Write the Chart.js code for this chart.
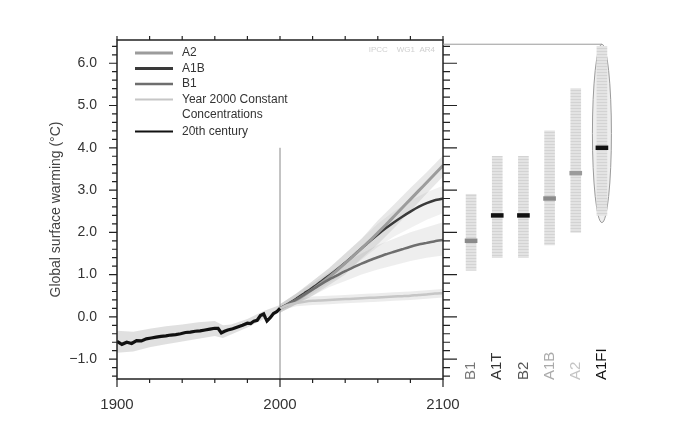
<!DOCTYPE html>
<html>
<head>
<meta charset="utf-8">
<script src="https://cdn.jsdelivr.net/npm/chart.js@4"></script>
<style>
  html, body { margin: 0; padding: 0; background: #fff; }
  #wrap { position: relative; width: 689px; height: 426px; }
  #main { position: absolute; left: 0; top: 0; }
  #side { position: absolute; left: 443px; top: 0; }
</style>
</head>
<body>
<div id="wrap">
  <canvas id="main" width="689" height="426"></canvas>
  <canvas id="side" width="246" height="426"></canvas>
</div>
<script>
// 20th century observations/simulation
const years20 = [1900,1903,1906,1909,1912,1915,1918,1921,1924,1927,1930,1933,1936,1939,1942,1945,1948,1951,1954,1957,1960,1962,1964,1966,1968,1971,1974,1977,1980,1982,1984,1986,1988,1990,1991,1992,1994,1996,1998,2000];
const temp20 = [-0.58,-0.65,-0.6,-0.63,-0.56,-0.57,-0.52,-0.5,-0.48,-0.46,-0.45,-0.43,-0.42,-0.4,-0.37,-0.36,-0.34,-0.33,-0.31,-0.29,-0.27,-0.27,-0.38,-0.34,-0.31,-0.28,-0.24,-0.2,-0.15,-0.16,-0.1,-0.08,0.03,0.07,-0.02,-0.1,-0.02,0.08,0.12,0.2];
const bandYears20 = [1900,1910,1920,1930,1940,1950,1960,1965,1970,1980,1990,2000];
const band20Hi = [-0.33,-0.35,-0.28,-0.22,-0.18,-0.13,-0.1,-0.2,-0.18,-0.05,0.14,0.28];
const band20Lo = [-0.85,-0.82,-0.72,-0.65,-0.58,-0.52,-0.45,-0.5,-0.42,-0.25,-0.05,0.12];

// 21st century scenarios
const futYears = [2000,2005,2010,2015,2020,2025,2030,2035,2040,2045,2050,2055,2060,2065,2070,2075,2080,2085,2090,2095,2100];
const a2 = [0.20,0.29,0.40,0.52,0.65,0.79,0.94,1.10,1.27,1.44,1.62,1.80,1.99,2.18,2.38,2.58,2.78,2.98,3.18,3.38,3.58];
const a1b = [0.20,0.31,0.43,0.56,0.69,0.83,0.97,1.12,1.28,1.45,1.62,1.79,1.95,2.10,2.24,2.37,2.49,2.60,2.69,2.76,2.80];
const b1 = [0.20,0.30,0.41,0.53,0.65,0.77,0.88,0.98,1.08,1.17,1.26,1.34,1.41,1.48,1.54,1.60,1.66,1.71,1.75,1.79,1.82];
const commit = [0.20,0.28,0.33,0.36,0.38,0.39,0.40,0.41,0.42,0.43,0.44,0.45,0.46,0.47,0.48,0.49,0.50,0.52,0.53,0.55,0.56];

const bandYears = [2000,2010,2020,2030,2040,2050,2060,2070,2080,2090,2100];
const a2Hi = [0.3,0.55,0.85,1.15,1.5,1.85,2.28,2.66,3.05,3.42,3.82];
const a2Lo = [0.1,0.3,0.5,0.75,1.0,1.38,1.72,2.1,2.5,2.92,3.32];
const a1bHi = [0.3,0.55,0.85,1.15,1.5,1.85,2.2,2.5,2.75,2.95,3.1];
const a1bLo = [0.1,0.3,0.55,0.8,1.05,1.35,1.65,1.9,2.1,2.3,2.45];
const b1Hi = [0.3,0.55,0.8,1.05,1.3,1.5,1.7,1.85,2.0,2.12,2.24];
const b1Lo = [0.1,0.3,0.5,0.7,0.85,1.0,1.12,1.22,1.32,1.4,1.45];
const commitHi = [0.25,0.42,0.48,0.5,0.52,0.54,0.56,0.58,0.6,0.63,0.66];
const commitLo = [0.15,0.25,0.28,0.3,0.32,0.34,0.36,0.38,0.4,0.43,0.46];

// likely ranges at 2090-2099 (right panel)
const scenLabels = ['B1', 'A1T', 'B2', 'A1B', 'A2', 'A1FI'];
const likelyLow = [1.1, 1.4, 1.4, 1.7, 2.0, 2.4];
const likelyHigh = [2.9, 3.8, 3.8, 4.4, 5.4, 6.4];
const bestEst = [1.8, 2.4, 2.4, 2.8, 3.4, 4.0];
const a1fiOval = [2.23, 6.45];

const legendLabels = ['A2', 'A1B', 'B1', 'Year 2000 Constant\nConcentrations', '20th century'];

const yMin = -1.47, yMax = 6.55;
const FONT = '"Liberation Sans", Arial, Helvetica, sans-serif';
Chart.defaults.font.family = FONT;

function pts(xs, ys) { return xs.map((x, i) => ({ x, y: ys[i] })); }
function band(xs, hi, lo, color) {
  return [
    { data: pts(xs, hi), borderWidth: 0, pointRadius: 0, fill: '+1', backgroundColor: color, order: 5 },
    { data: pts(xs, lo), borderWidth: 0, pointRadius: 0, fill: false, order: 5 }
  ];
}
function line(xs, ys, color, width, tension) {
  return { data: pts(xs, ys), borderColor: color, borderWidth: width, pointRadius: 0, fill: false, tension, order: 2 };
}

const styles = {
  a2: '#9c9c9c', a1b: '#3a3a3a', b1: '#6e6e6e', commit: '#c6c6c6', c20: '#111'
};

const datasets = [
  ...band(bandYears20, band20Hi, band20Lo, 'rgba(165,165,165,0.35)'),
  ...band(bandYears, a2Hi, a2Lo, 'rgba(150,150,150,0.22)'),
  ...band(bandYears, a1bHi, a1bLo, 'rgba(140,140,140,0.12)'),
  ...band(bandYears, b1Hi, b1Lo, 'rgba(150,150,150,0.16)'),
  ...band(bandYears, commitHi, commitLo, 'rgba(180,180,180,0.25)'),
  line(futYears, commit, styles.commit, 2.5, 0.2),
  line(futYears, b1, styles.b1, 2.5, 0.2),
  line(futYears, a2, styles.a2, 3, 0.2),
  line(futYears, a1b, styles.a1b, 2.5, 0.2),
  { ...line(years20, temp20, styles.c20, 3.2, 0), order: 1 }
];

// frame, ticks, 2000 marker, legend
const framePlugin = {
  id: 'frame',
  beforeDatasetsDraw(chart) {
    const { ctx, scales: { x, y } } = chart;
    const px = x.getPixelForValue(2000);
    ctx.save();
    ctx.strokeStyle = '#888';
    ctx.lineWidth = 1;
    ctx.beginPath();
    ctx.moveTo(px, y.getPixelForValue(4.0));
    ctx.lineTo(px, y.bottom);
    ctx.stroke();
    ctx.restore();
  },
  afterDatasetsDraw(chart) {
    const { ctx, chartArea: a, scales: { x, y } } = chart;
    ctx.save();
    ctx.strokeStyle = '#222';
    ctx.lineWidth = 1.5;
    ctx.strokeRect(a.left, a.top, a.right - a.left, a.bottom - a.top);
    ctx.lineWidth = 1.2;
    ctx.beginPath();
    for (let k = -7; k <= 32; k++) {
      const py = y.getPixelForValue(k / 5);
      const major = k % 5 === 0;
      ctx.moveTo(a.left, py); ctx.lineTo(a.left - (major ? 8 : 5), py);
      ctx.moveTo(a.right, py); ctx.lineTo(a.right + (major ? 14 : 7), py);
    }
    for (let yr = 1900; yr <= 2100; yr += 20) {
      const px = x.getPixelForValue(yr);
      const major = yr % 100 === 0;
      ctx.moveTo(px, a.bottom); ctx.lineTo(px, a.bottom + (major ? 8 : 4));
      ctx.moveTo(px, a.top); ctx.lineTo(px, a.top - 4);
    }
    ctx.stroke();

    // legend
    const keys = [styles.a2, styles.a1b, styles.b1, styles.commit, styles.c20];
    const widths = [3, 3, 2.5, 2, 2];
    let ry = 53;
    ctx.font = '12px ' + FONT;
    ctx.textBaseline = 'middle';
    ctx.fillStyle = '#333';
    legendLabels.forEach((lab, i) => {
      ctx.strokeStyle = keys[i];
      ctx.lineWidth = widths[i];
      ctx.beginPath();
      ctx.moveTo(135, ry); ctx.lineTo(173, ry);
      ctx.stroke();
      lab.split('\n').forEach((t, j) => ctx.fillText(t, 182, ry + j * 15.5));
      ry += 15.5 * lab.split('\n').length + (i === 3 ? 1 : 0);
    });

    ctx.fillStyle = '#cfcfcf';
    ctx.font = '8px ' + FONT;
    ctx.textAlign = 'right';
    ctx.fillText('IPCC    WG1  AR4', a.right - 8, a.top + 10);
    ctx.restore();
  }
};

new Chart(document.getElementById('main'), {
  type: 'line',
  data: { datasets },
  options: {
    responsive: false,
    animation: false,
    layout: { padding: { left: 0, top: 40, right: 246, bottom: 0 } },
    plugins: { legend: { display: false }, tooltip: { enabled: false } },
    scales: {
      x: {
        type: 'linear', min: 1900, max: 2100,
        grid: { display: false, drawTicks: false }, border: { display: false },
        ticks: { stepSize: 100, padding: 17, color: '#333', font: { size: 15 }, maxRotation: 0, callback: v => String(v) },
        afterFit: s => { s.height = 47; }
      },
      y: {
        min: yMin, max: yMax,
        grid: { display: false, drawTicks: false }, border: { display: false },
        ticks: {
          stepSize: 1, includeBounds: false, padding: 20, color: '#333', font: { size: 14 },
          callback: v => (v < 0 ? '\u2212' : '') + Math.abs(v).toFixed(1)
        },
        title: { display: true, text: 'Global surface warming (°C)', color: '#444', font: { size: 14 }, padding: { top: 48, bottom: 0 } },
        afterFit: s => { s.width = 117; }
      }
    }
  },
  plugins: [framePlugin]
});

// right panel: likely ranges
function hatch(base, stripe) {
  const c = document.createElement('canvas');
  c.width = 4; c.height = 3;
  const g = c.getContext('2d');
  g.fillStyle = base; g.fillRect(0, 0, 4, 3);
  g.fillStyle = stripe; g.fillRect(0, 0, 4, 1);
  return g.createPattern(c, 'repeat');
}
const barFill = hatch('#e3e3e3', '#d3d3d3');
const markColors = ['#8a8a8a', '#111', '#111', '#8a8a8a', '#9a9a9a', '#111'];
const labelColors = ['#777', '#333', '#555', '#aaa', '#c4c4c4', '#111'];

const sidePlugin = {
  id: 'side',
  beforeDatasetsDraw(chart) {
    const { ctx, scales: { x, y } } = chart;
    const cx = x.getPixelForValue(5);
    const top = y.getPixelForValue(a1fiOval[1]);
    const bot = y.getPixelForValue(a1fiOval[0]);
    ctx.save();
    ctx.strokeStyle = '#9a9a9a';
    ctx.lineWidth = 1;
    ctx.beginPath();
    ctx.moveTo(0, top); ctx.lineTo(cx, top);
    ctx.stroke();
    ctx.beginPath();
    ctx.ellipse(cx, (top + bot) / 2, 9.5, (bot - top) / 2, 0, 0, Math.PI * 2);
    ctx.fillStyle = 'rgba(205,205,205,0.35)';
    ctx.fill();
    ctx.stroke();
    ctx.restore();
  },
  afterDraw(chart) {
    const { ctx, scales: { x } } = chart;
    ctx.save();
    ctx.font = '15px ' + FONT;
    ctx.textAlign = 'left';
    ctx.textBaseline = 'middle';
    scenLabels.forEach((lab, i) => {
      ctx.save();
      ctx.translate(x.getPixelForValue(i), 380);
      ctx.rotate(-Math.PI / 2);
      ctx.fillStyle = labelColors[i];
      ctx.fillText(lab, 0, 0);
      ctx.restore();
    });
    ctx.restore();
  }
};

new Chart(document.getElementById('side'), {
  type: 'bar',
  data: {
    labels: scenLabels,
    datasets: [
      {
        data: scenLabels.map((_, i) => [likelyLow[i], likelyHigh[i]]),
        backgroundColor: barFill, barThickness: 10, grouped: false, order: 2, borderSkipped: false
      },
      {
        data: bestEst.map(b => [b - 0.045, b + 0.045]),
        backgroundColor: markColors, barThickness: 12, grouped: false, order: 1, borderSkipped: false
      }
    ]
  },
  options: {
    responsive: false,
    animation: false,
    layout: { padding: { left: 15, right: 74, top: 40, bottom: 47 } },
    plugins: { legend: { display: false }, tooltip: { enabled: false } },
    scales: {
      x: { type: 'category', display: false, offset: true },
      y: { display: false, min: yMin, max: yMax }
    }
  },
  plugins: [sidePlugin]
});
</script>
</body>
</html>
